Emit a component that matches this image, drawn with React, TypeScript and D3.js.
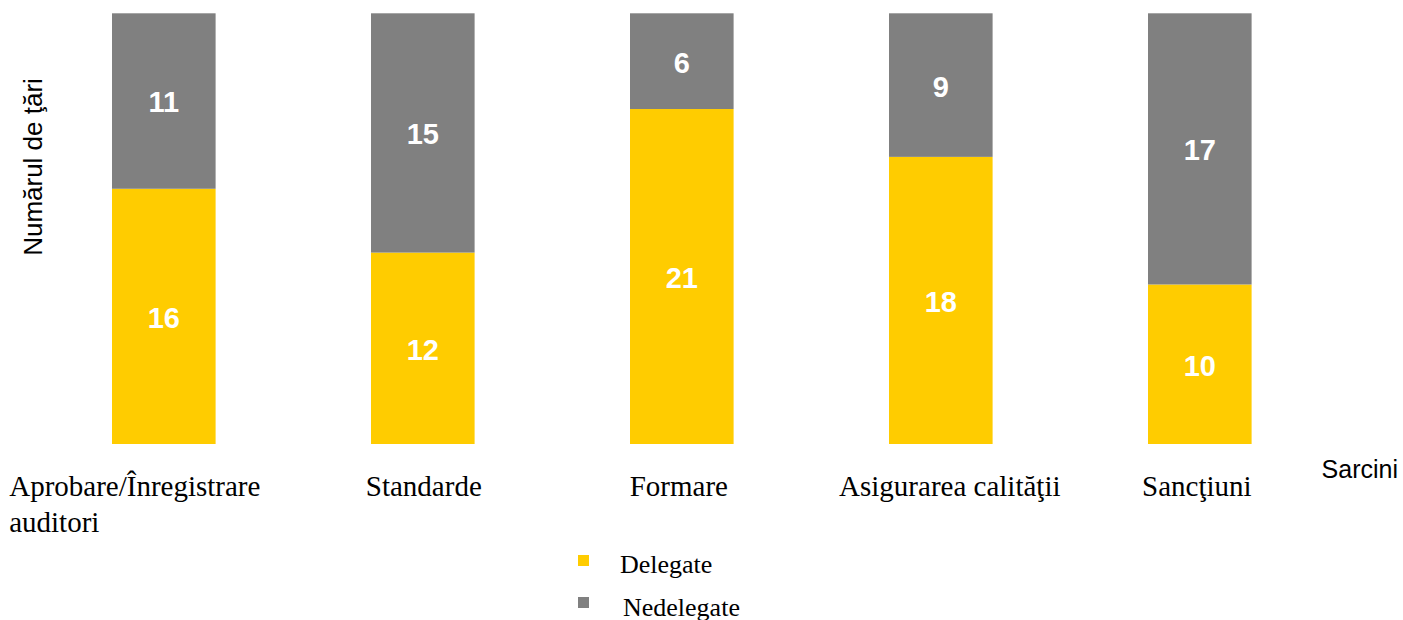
import React, { useEffect, useRef } from "react";
import * as d3 from "d3";

const categories = [
  ["Aprobare/Înregistrare", "auditori"],
  ["Standarde"],
  ["Formare"],
  ["Asigurarea calităţii"],
  ["Sancţiuni"],
];
const delegate = [16, 12, 21, 18, 10];
const nedelegate = [11, 15, 6, 9, 17];
const seriesNames = ["Delegate", "Nedelegate"];
const colors = ["#FFCC00", "#808080"];

// small horizontal nudges of the category labels, as in the original layout
const labelNudge = [-29, 1, -3, 9, -3];

const App = () => {
  const svgRef = useRef<SVGSVGElement>(null);

  useEffect(() => {
    const width = 1403;
    const height = 620;
    const svg = d3.select(svgRef.current);
    svg.selectAll("*").remove();

    const keys = categories.map((c) => c.join(" "));
    const rows = keys.map((k, i) => ({ cat: k, Delegate: delegate[i], Nedelegate: nedelegate[i] }));
    const maxTotal = d3.max(rows, (r) => r.Delegate + r.Nedelegate) as number;

    const x = d3.scaleBand().domain(keys).range([34.3, 1329.3]).paddingInner(0.6).paddingOuter(0.3);
    const y = d3.scaleLinear().domain([0, maxTotal]).range([444, 13.3]);

    const stack = d3.stack<any>().keys(seriesNames)(rows);

    svg.attr("width", width).attr("height", height);

    const layer = svg
      .append("g")
      .selectAll("g")
      .data(stack)
      .join("g")
      .attr("fill", (_d, i) => colors[i]);

    layer
      .selectAll("rect")
      .data((d) => d)
      .join("rect")
      .attr("x", (d: any) => x(d.data.cat)!)
      .attr("width", x.bandwidth())
      .attr("y", (d) => y(d[1]))
      .attr("height", (d) => y(d[0]) - y(d[1]));

    // value labels
    layer
      .selectAll("text")
      .data((d) => d)
      .join("text")
      .attr("x", (d: any) => x(d.data.cat)! + x.bandwidth() / 2)
      .attr("y", (d) => (y(d[0]) + y(d[1])) / 2 + 1)
      .attr("dy", "0.36em")
      .attr("text-anchor", "middle")
      .style("font", "bold 29px 'Liberation Sans', Arial, sans-serif")
      .attr("fill", "#fff")
      .text((d) => d[1] - d[0]);

    // category labels
    const catText = svg
      .append("g")
      .selectAll("text")
      .data(categories)
      .join("text")
      .attr("text-anchor", "middle")
      .attr("y", 496)
      .style("font", "29px 'Liberation Serif', 'Times New Roman', serif")
      .attr("fill", "#000");

    catText.each(function (lines, i) {
      const t = d3.select(this);
      const cx = x(keys[i])! + x.bandwidth() / 2 + labelNudge[i];
      lines.forEach((line, j) => {
        t.append("tspan").attr("x", cx).attr("dy", j === 0 ? 0 : 36).text(line);
      });
      if (lines.length > 1) {
        const w = (t.select("tspan").node() as SVGTextContentElement).getComputedTextLength();
        t.attr("text-anchor", "start");
        t.selectAll("tspan").attr("x", cx - w / 2);
      }
    });

    // axis titles
    svg
      .append("text")
      .attr("transform", "translate(42,167) rotate(-90)")
      .attr("text-anchor", "middle")
      .style("font", "26px 'Liberation Sans', Arial, sans-serif")
      .text("Numărul de ţări");

    svg
      .append("text")
      .attr("x", 1398)
      .attr("y", 478)
      .attr("text-anchor", "end")
      .style("font", "25px 'Liberation Sans', Arial, sans-serif")
      .text("Sarcini");

    // legend
    const legend = svg
      .append("g")
      .selectAll("g")
      .data(seriesNames)
      .join("g")
      .attr("transform", (_d, i) => `translate(578,${555 + i * 42})`);

    legend
      .append("rect")
      .attr("width", 11)
      .attr("height", 11)
      .attr("fill", (_d, i) => colors[i]);

    legend
      .append("text")
      .attr("x", (_d, i) => (i === 0 ? 42 : 45))
      .attr("y", (_d, i) => (i === 0 ? 18 : 19))
      .style("font", "26px 'Liberation Serif', 'Times New Roman', serif")
      .text((d) => d);
  }, []);

  return <svg ref={svgRef} style={{ position: "absolute", left: 0, top: 0 }}></svg>;
};

export default App;
